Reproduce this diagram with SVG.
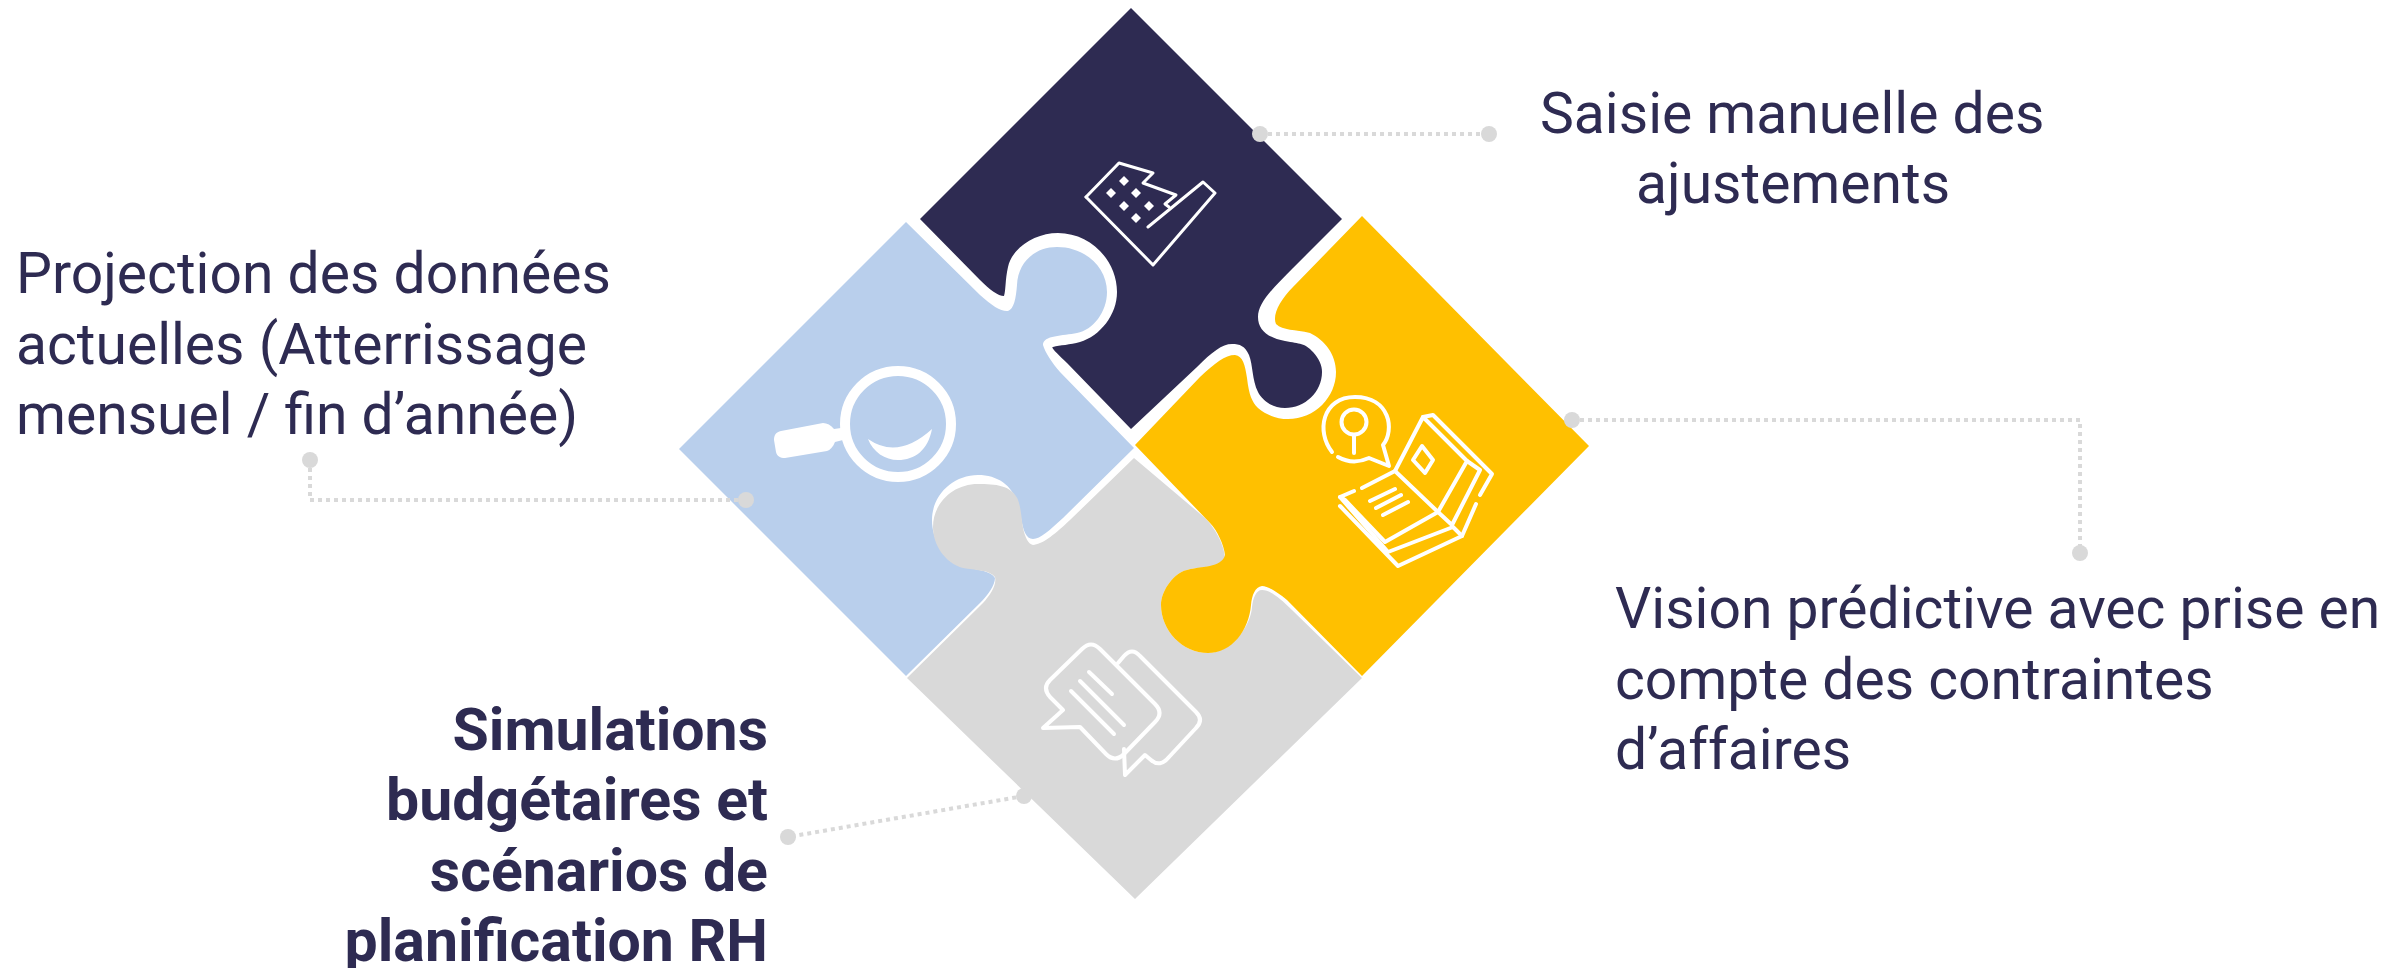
<svg xmlns="http://www.w3.org/2000/svg" width="2407" height="968" viewBox="0 0 2407 968">
<style>
text{font-family:Roboto,"Liberation Sans",sans-serif;font-size:57px;fill:#2e2b52}
.b{font-weight:700;text-anchor:end;font-size:59px}
.c{fill:none;stroke:#d9d9d9;stroke-width:4;stroke-dasharray:4 4}
.d{fill:#d9d9d9}
.i{fill:none;stroke:#fff;stroke-width:4;stroke-linejoin:round;stroke-linecap:round}
.w{fill:#fff}
</style>
<rect width="2407" height="968" fill="#fff"/>
<g id="node-navy">
<path fill="#2e2b52" d="M1131,8L1342,219L1293,268C1272,289 1258,303 1258,317C1258,330 1268,338 1285,341C1300,344 1305,343 1313,352C1319,359 1322,365 1322,372C1322,392 1305,408 1285,408C1272,408 1262,400 1258,392C1252,380 1253,365 1249,355C1245,346 1240,344 1232,344C1222,344 1212,352 1197,367L1131,429L1067,363C1058,354 1050,347 1053,347C1060,345 1070,345 1080,342C1100,336 1117,315 1117,292C1117,260 1090,233 1058,233C1035,233 1012,248 1008,267C1005,280 1006,290 1004,296C998,296 990,290 980,280L920,219Z"/>
<g class="i" style="stroke-width:3"><path d="M1086,197L1119,163L1153,173L1143,183L1176,195L1165,204L1169,207"/><path d="M1148,227L1203,182L1215,193L1153,265L1086,197"/></g>
<g class="w"><path d="M1124,176l5,5l-5,5l-5,-5z"/><path d="M1111,188l5,5l-5,5l-5,-5z"/><path d="M1136,188l5,5l-5,5l-5,-5z"/><path d="M1124,201l5,5l-5,5l-5,-5z"/><path d="M1149,201l5,5l-5,5l-5,-5z"/><path d="M1136,213l5,5l-5,5l-5,-5z"/></g>
</g>
<g id="node-blue">
<path fill="#b9cfec" d="M906,222L980,295C992,306 1002,312 1008,311C1014,309 1016,298 1017,285C1018,262 1035,247 1057,247C1085,247 1107,267 1107,292C1107,312 1093,330 1077,333C1063,336 1043,335 1043,345C1045,352 1052,363 1060,372L1134,448L1063,518C1050,530 1040,539 1033,539C1026,539 1023,530 1021,518C1018,490 1002,475 978,475C953,475 932,495 932,520C932,540 943,557 963,566C975,570 990,570 995,578C995,585 988,595 980,603L906,676L679,449Z"/>
<circle cx="898" cy="424" r="53" fill="none" stroke="#fff" stroke-width="10"/>
<path class="w" d="M868,439Q898,460 932,429C928,450 915,460 898,460C885,460 873,452 868,439Z"/>
<path class="w" d="M781,431L823,423C827,423 831,425 834,429L841,428L843,440L835,442C833,447 830,450 827,451L785,458C780,458 777,456 776,452L774,440C774,435 776,432 781,431Z"/>
</g>
<g id="node-gray">
<path fill="#d9d9d9" d="M1134,458L1070,520C1052,537 1042,544 1033,545C1028,544 1025,537 1023,528C1021,515 1021,508 1018,500C1012,485 995,484 978,484C953,484 933,503 933,527C933,545 945,563 963,568C975,570 990,570 995,577C997,585 990,595 983,603L907,678L1135,899L1362,678L1292,610C1280,598 1270,590 1262,590C1256,590 1253,598 1252,607C1251,625 1232,653 1208,653C1182,653 1161,630 1161,605C1161,590 1175,572 1187,570C1200,566 1222,568 1225,560C1225,545 1215,528 1205,518Z"/>
<g class="i"><path d="M1118,663L1124,656Q1132,647 1140,656L1196,712Q1204,720 1196,728L1169,757Q1160,768 1151,760L1145,755L1125,775L1124,749"/><path d="M1082,649Q1091,640 1100,649L1155,704Q1164,713 1155,722L1124,754Q1115,763 1106,754L1080,727L1043,728L1063,710L1050,697Q1042,688 1050,680Z"/><path d="M1089,672L1112,694M1080,681L1124,725M1071,691L1114,734"/></g>
</g>
<g id="node-yellow">
<path fill="#ffc000" d="M1135,445L1200,377C1215,363 1225,355 1235,355C1243,356 1245,365 1247,378C1249,395 1252,402 1258,408C1266,415 1277,419 1288,419C1315,419 1336,397 1336,372C1336,355 1325,340 1310,333C1295,329 1283,331 1276,324C1272,315 1280,300 1293,287L1362,216L1589,446L1362,676L1287,600C1277,592 1268,586 1262,586C1255,587 1252,595 1251,605C1249,630 1232,653 1208,653C1182,653 1161,630 1161,605C1161,590 1175,572 1187,570C1200,566 1222,568 1225,555C1224,545 1217,530 1210,523Z"/>
<g class="i">
<path d="M1332,452C1316,432 1322,397 1355,397C1390,397 1395,430 1383,445L1389,466L1369,458C1358,463 1347,462 1338,457"/>
<circle cx="1354" cy="422" r="12.5"/><path d="M1354,435V453"/>
<path d="M1362,488L1395,471L1438,512L1385,542L1345,500L1340,497L1354,491"/>
<path d="M1395,471L1423,417L1467,461L1438,512"/>
<path d="M1423,417L1433,415L1492,474L1480,495"/>
<path d="M1467,461L1480,470L1452,525L1438,512"/>
<path d="M1340,497L1388,552L1453,527L1462,536"/>
<path d="M1340,506L1398,566L1462,536L1476,504"/>
<path d="M1370,501L1395,489M1376,508L1401,495M1383,515L1408,502"/>
<path d="M1422,446L1433,460L1425,473L1413,460Z"/>
</g>
</g>
<g id="connectors">
<path class="c" d="M1260,134H1489"/>
<path class="c" d="M1572,420H2080V553"/>
<path class="c" d="M746,500H310V460"/>
<path class="c" d="M1024,796L788,837"/>
</g>
<g id="dots" class="d">
<circle cx="1260" cy="134" r="8"/><circle cx="1489" cy="134" r="8"/>
<circle cx="1572" cy="420" r="8"/><circle cx="2080" cy="553" r="8"/>
<circle cx="746" cy="500" r="8"/><circle cx="310" cy="460" r="8"/>
<circle cx="1024" cy="796" r="8"/><circle cx="788" cy="837" r="8"/>
</g>
<g id="labels">
<text x="1540" y="133">Saisie manuelle des</text>
<text x="1636" y="203">ajustements</text>
<text x="16" y="293">Projection des données</text>
<text x="16" y="364">actuelles (Atterrissage</text>
<text x="16" y="434">mensuel / fin d’année)</text>
<text x="1615" y="628">Vision prédictive avec prise en</text>
<text x="1615" y="699">compte des contraintes</text>
<text x="1615" y="769">d’affaires</text>
<text class="b" x="768" y="750">Simulations</text>
<text class="b" x="768" y="820">budgétaires et</text>
<text class="b" x="768" y="891">scénarios de</text>
<text class="b" x="768" y="961">planification RH</text>
</g>
</svg>
